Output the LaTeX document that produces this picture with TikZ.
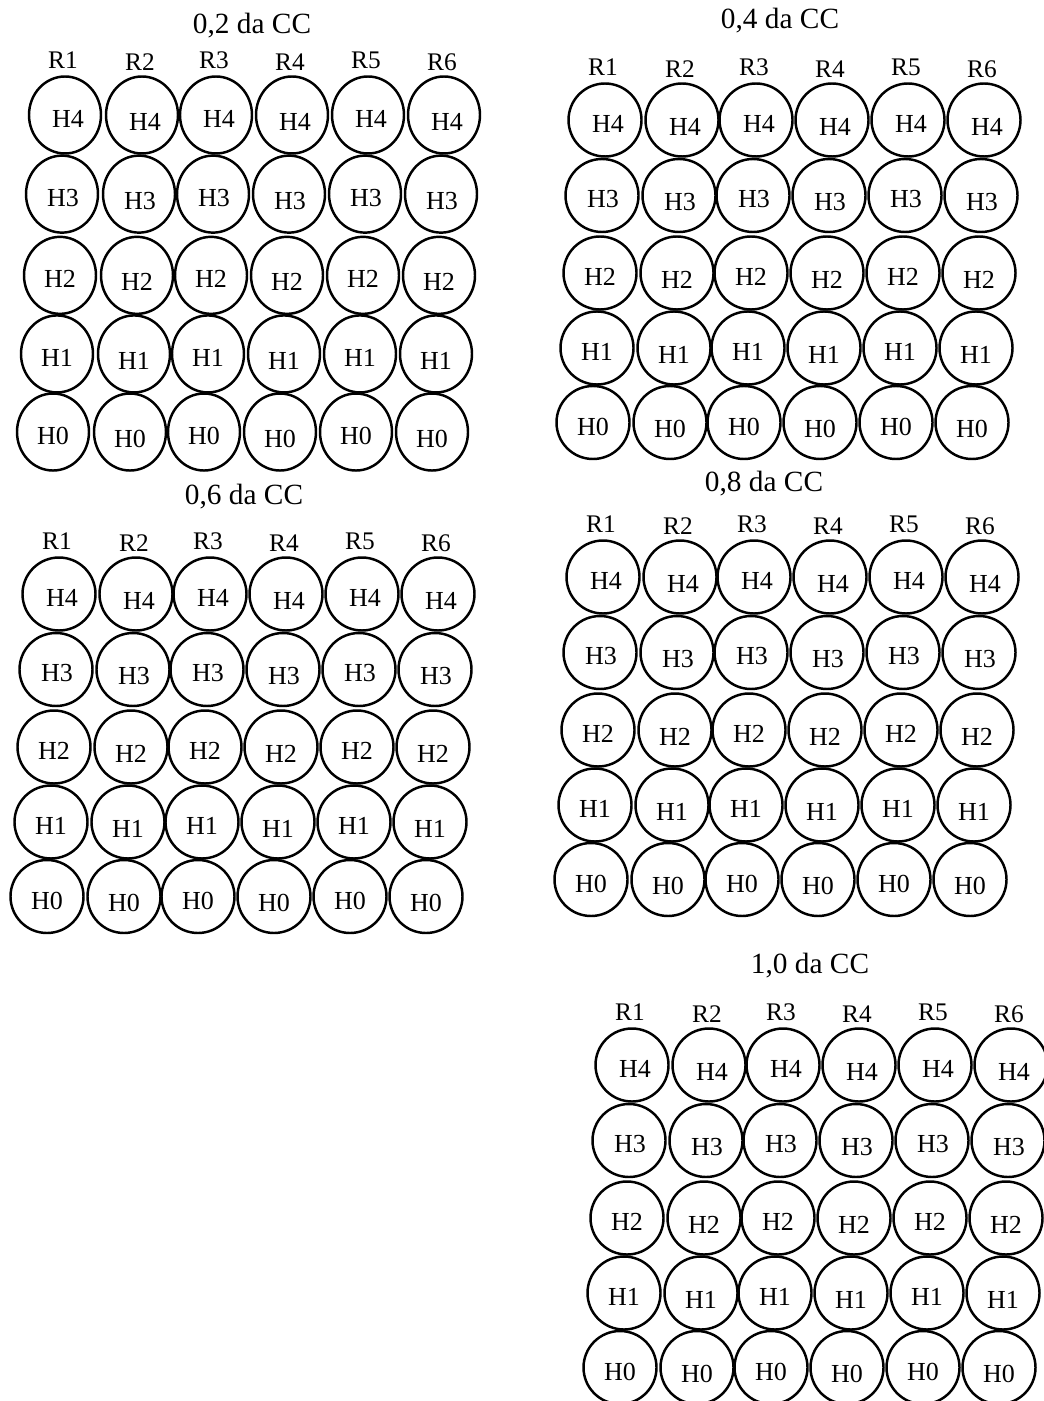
\documentclass[tikz,border=0pt]{standalone}
\usepackage{fontspec}
\setmainfont{Liberation Serif}
\usetikzlibrary{shapes.geometric}

\begin{document}
\begin{tikzpicture}[
    x = 0.75pt,
    y = -0.75pt,
    cell/.style = {ellipse, draw, line width=1.85pt, inner sep=0pt},
    htext/.style = {font=\fontsize{19.5}{22}\selectfont, inner sep=0pt},
    rlabel/.style = {font=\fontsize{19}{22}\selectfont, anchor=base, inner sep=0pt},
    title/.style = {font=\fontsize{22}{26}\selectfont, anchor=base, inner sep=0pt}
]

\useasboundingbox (0,0) rectangle (1044,1401);

% 1. One block per CC fraction: name / centre of R1-H4 / row stretch / radii / title
\foreach \g/\gx/\gy/\dy/\rx/\ry/\tx/\ty/\ttl in {
    a/65/115/1.048/36/38.5/252/34/{0,2 da CC},
    b/605/120/1/36.5/36.5/780/29/{0,4 da CC},
    c/59/594/1/36.5/36.5/244/504/{0,6 da CC},
    d/603/577/1/36.5/36.5/764/491/{0,8 da CC},
    e/632/1065/1/36.5/36.5/810/973/{1,0 da CC}} {
    \node[title] (\g-title) at (\tx,\ty) {\ttl};
    \foreach \c/\cx in {1/0, 2/77, 3/151, 4/227, 5/303, 6/379} {
        \pgfmathsetmacro{\ev}{1-mod(\c,2)}
        % 2. Column label R1..R6 (even ones sit a bit lower)
        \node[rlabel] (\g-R\c) at (\gx+\cx-2, \gy-\ry-8+2*\ev) {R\c};
        % 3. The column of circles, H4 on top, drifting left going down
        \foreach \r/\oy/\ox/\tsx in {4/0/0/3, 3/75.5/-3/1, 2/153/-5/0, 1/228/-8/0, 0/302.5/-12/0} {
            \node[cell, minimum width=1.5pt*\rx, minimum height=1.5pt*\ry] (\g-\c-\r) at (\gx+\cx+\ox, \gy+\dy*\oy) {};
            \node[htext] (\g-\c-\r-txt) at ([xshift=0.75pt*\tsx, yshift=-3pt-1.9pt*\ev]\g-\c-\r) {H\r};
        }
    }
}

\end{tikzpicture}
\end{document}
